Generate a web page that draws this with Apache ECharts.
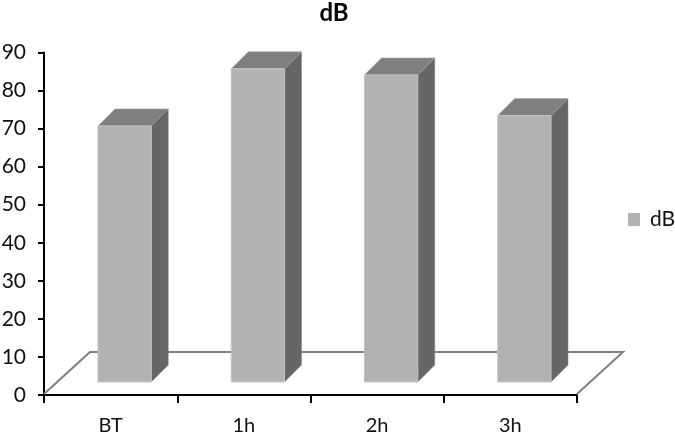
<!DOCTYPE html>
<html><head><meta charset="utf-8">
<style>html,body{margin:0;padding:0;background:#fff}#c{width:675px;height:438px}</style>
<script src="https://cdn.jsdelivr.net/npm/echarts@6/dist/echarts.min.js"></script>
</head><body><div id="c"></div>
<script>
const categories = ['BT', '1h', '2h', '3h'];
const dBValues = [67.3, 82.3, 80.7, 70];
const yTicks = { min: 0, max: 90, interval: 10 };
const seriesName = 'dB';
const FONT = 'Lato,"Open Sans",sans-serif';

const depth = 17, floorDepthX = 46, floorDepthY = 42, planeX = 14, planeY = 13;

function barItem(params, api) {
  const idx = api.value(0);
  const p = api.coord([idx, api.value(1)]);
  const base = api.coord([idx, 0]);
  const w = api.size([1, 0])[0] * 0.4;
  const x0 = p[0] + planeX - w / 2, x1 = x0 + w;
  const yt = p[1] - planeY, yb = base[1] - planeY;
  return { type: 'group', children: [
    { type: 'polygon', shape: { points: [[x1, yt], [x1 + depth, yt - depth], [x1 + depth, yb - depth], [x1, yb]] }, style: { fill: '#666666', stroke: '#8a8a8a', lineWidth: 0.5 } },
    { type: 'polygon', shape: { points: [[x0, yt], [x0 + depth, yt - depth], [x1 + depth, yt - depth], [x1, yt]] }, style: { fill: '#7f7f7f', stroke: '#a0a0a0', lineWidth: 0.5 } },
    { type: 'rect', shape: { x: x0, y: yt, width: w, height: yb - yt }, style: { fill: '#b2b2b2', stroke: '#c4c4c4', lineWidth: 1 } }
  ]};
}
function floorItem(params) {
  const g = params.coordSys;
  const l = g.x, r = g.x + g.width, b = g.y + g.height;
  return { type: 'polyline', shape: { points: [[l, b - 1], [l + floorDepthX, b - floorDepthY - 1], [r + floorDepthX, b - floorDepthY - 1], [r, b - 1]] },
    style: { fill: null, stroke: '#808080', lineWidth: 2 } };
}

const chart = echarts.init(document.getElementById('c'), null, { renderer: 'canvas' });
chart.setOption({
  animation: false,
  backgroundColor: '#ffffff',
  title: { text: seriesName, left: 334, top: 1, padding: 0, textAlign: 'center',
    textStyle: { fontFamily: FONT, fontSize: 24, fontWeight: 'bold', color: '#000' } },
  legend: { data: [{ name: seriesName, icon: 'rect', itemStyle: { color: '#b2b2b2' } }],
    left: 628, top: 209, padding: 0, itemWidth: 12, itemHeight: 13,
    textStyle: { fontFamily: FONT, fontSize: 21, color: '#111', padding: [0, 0, 0, 5] } },
  grid: { left: 44, right: 98, top: 52.5, bottom: 43, outerBoundsMode: 'none' },
  xAxis: { type: 'category', data: categories, boundaryGap: true,
    axisLine: { lineStyle: { color: '#000', width: 2 } },
    axisTick: { show: true, alignWithLabel: false, length: 8, lineStyle: { color: '#000', width: 2 } },
    axisLabel: { fontFamily: FONT, fontSize: 20, color: '#111', margin: 21 },
    splitLine: { show: false } },
  yAxis: { type: 'value', min: yTicks.min, max: yTicks.max, interval: yTicks.interval,
    axisLine: { show: true, lineStyle: { color: '#000', width: 2 } },
    axisTick: { show: true, length: 6, lineStyle: { color: '#000', width: 2 } },
    axisLabel: { fontFamily: FONT, fontSize: 21, color: '#111', margin: 18, padding: [3, 0, 0, 0] },
    splitLine: { show: false } },
  series: [
    { type: 'custom', name: 'floor', z: 1, silent: true, renderItem: floorItem, data: [0], encode: { x: 0 } },
    { type: 'custom', name: seriesName, z: 2, renderItem: barItem, itemStyle: { color: '#b2b2b2' },
      data: categories.map((c, i) => [i, dBValues[i]]), encode: { x: 0, y: 1 } }
  ]
});
</script></body></html>
